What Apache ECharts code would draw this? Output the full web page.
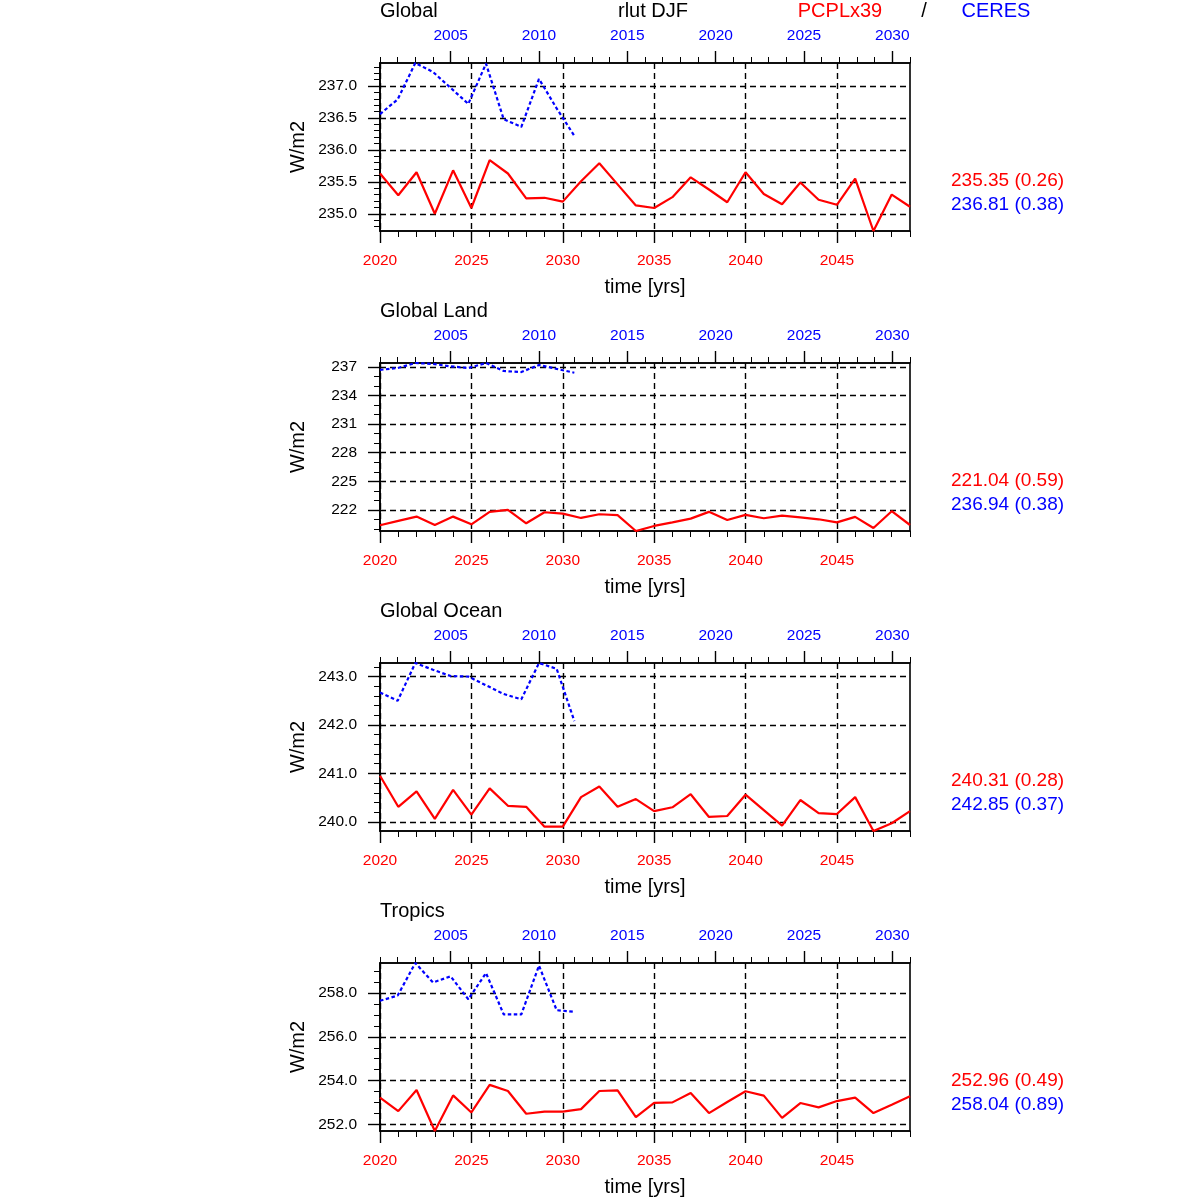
<!DOCTYPE html>
<html><head><meta charset="utf-8">
<script src="https://cdn.jsdelivr.net/npm/echarts@6/dist/echarts.min.js"></script>
<style>html,body{margin:0;padding:0;background:#fff}#c{width:1200px;height:1200px}</style>
</head><body><div id="c"></div>
<script>
// ---- data ----
const modelYears = [2020,2021,2022,2023,2024,2025,2026,2027,2028,2029,2030,2031,2032,2033,2034,2035,2036,2037,2038,2039,2040,2041,2042,2043,2044,2045,2046,2047,2048,2049];
const obsYears = [2001,2002,2003,2004,2005,2006,2007,2008,2009,2010,2011,2012];

const globalModel = [235.63,235.29,235.65,235.00,235.68,235.09,235.84,235.63,235.24,235.25,235.19,235.51,235.79,235.46,235.13,235.09,235.26,235.57,235.38,235.18,235.65,235.31,235.15,235.49,235.22,235.14,235.55,234.73,235.30,235.11];
const globalObs = [236.56,236.79,237.36,237.22,236.97,236.72,237.35,236.48,236.36,237.11,236.65,236.22];

const landModel = [220.38,220.84,221.29,220.41,221.29,220.48,221.79,222.00,220.59,221.75,221.61,221.15,221.54,221.44,219.78,220.31,220.69,221.08,221.79,220.94,221.47,221.12,221.40,221.22,221.01,220.69,221.26,220.09,221.86,220.41];
const landObs = [236.70,236.89,237.42,237.32,237.07,236.89,237.42,236.58,236.47,237.21,236.80,236.40];

const oceanModel = [240.95,240.31,240.63,240.06,240.66,240.15,240.69,240.33,240.31,239.90,239.90,240.51,240.73,240.31,240.47,240.22,240.30,240.57,240.10,240.12,240.56,240.24,239.92,240.45,240.18,240.16,240.51,239.81,239.97,240.22];
const oceanObs = [242.67,242.50,243.28,243.14,243.01,243.00,242.82,242.64,242.53,243.28,243.16,242.08];

const tropicsModel = [253.22,252.60,253.57,251.69,253.32,252.54,253.80,253.52,252.48,252.58,252.58,252.69,253.52,253.55,252.32,252.98,253.00,253.43,252.51,253.02,253.51,253.31,252.29,252.97,252.77,253.06,253.22,252.51,252.89,253.28];
const tropicsObs = [257.65,257.89,259.38,258.49,258.77,257.72,258.92,257.03,257.03,259.26,257.22,257.15];

const panelNames = ['Global','Global Land','Global Ocean','Tropics'];
const globalTicks = [235.0,235.5,236.0,236.5,237.0];
const landTicks = [222,225,228,231,234,237];
const oceanTicks = [240.0,241.0,242.0,243.0];
const tropicsTicks = [252.0,254.0,256.0,258.0];
const bottomTicks = [2020,2025,2030,2035,2040,2045];
const topTicks = [2005,2010,2015,2020,2025,2030];
const modelStats = ['235.35 (0.26)','221.04 (0.59)','240.31 (0.28)','252.96 (0.49)'];
const obsStats = ['236.81 (0.38)','236.94 (0.38)','242.85 (0.37)','258.04 (0.89)'];

// ---- layout / style ----
const FONT = '"Liberation Sans", Arial, Helvetica, sans-serif';
const panels = [
  {model: globalModel, obs: globalObs, ticks: globalTicks, minor: 0.1, dec: 1},
  {model: landModel, obs: landObs, ticks: landTicks, minor: 1, dec: 0},
  {model: oceanModel, obs: oceanObs, ticks: oceanTicks, minor: 0.2, dec: 1},
  {model: tropicsModel, obs: tropicsObs, ticks: tropicsTicks, minor: 0.5, dec: 1}
];
const bottomMin = 2020, bottomMax = 2049, topMin = 2001, topMax = 2031;
function range(a, b, step) {
  const out = [];
  const k0 = Math.ceil(a / step - 1e-9), k1 = Math.floor(b / step + 1e-9);
  for (let k = k0; k <= k1; k++) out.push(+(k * step).toFixed(6));
  return out;
}
const dash = {color: '#000', width: 1.4, type: [6, 4]};
const axLine = {show: true, onZero: false, lineStyle: {color: '#000', width: 1.6}};
const yearFmt = (v) => String(Math.round(v));

const grid = [], xAxis = [], yAxis = [], series = [], graphic = [];
panels.forEach((p, i) => {
  const top = 63 + 300 * i;
  const all = p.model.concat(p.obs);
  const yMin = Math.min.apply(null, all), yMax = Math.max.apply(null, all);
  grid.push({left: 380, width: 530, top: top, height: 168, show: true, borderColor: '#000', borderWidth: 1.6, backgroundColor: 'transparent'});
  // bottom major
  xAxis.push({type: 'value', gridIndex: i, position: 'bottom', min: bottomMin, max: bottomMax,
    axisLine: axLine,
    axisTick: {show: true, customValues: bottomTicks, length: 12, lineStyle: {color: '#000', width: 1.4}},
    axisLabel: {show: true, customValues: bottomTicks, color: '#ff0000', fontSize: 15.5, fontFamily: FONT, margin: 22, formatter: yearFmt},
    splitLine: {show: true, lineStyle: dash},
    name: 'time [yrs]', nameLocation: 'middle', nameGap: 46,
    nameTextStyle: {fontSize: 20, color: '#000', fontFamily: FONT}});
  // bottom minor
  xAxis.push({type: 'value', gridIndex: i, position: 'bottom', min: bottomMin, max: bottomMax,
    axisLine: {show: false},
    axisTick: {show: true, customValues: range(bottomMin, bottomMax, 1), length: 6, lineStyle: {color: '#000', width: 1}},
    axisLabel: {show: false}, splitLine: {show: false}});
  // top major (CERES years)
  xAxis.push({type: 'value', gridIndex: i, position: 'top', min: topMin, max: topMax,
    axisLine: axLine,
    axisTick: {show: true, customValues: topTicks, length: 12, lineStyle: {color: '#000', width: 1.4}},
    axisLabel: {show: true, customValues: topTicks, color: '#0000ff', fontSize: 15.5, fontFamily: FONT, margin: 19, formatter: yearFmt},
    splitLine: {show: false}});
  // top minor
  xAxis.push({type: 'value', gridIndex: i, position: 'top', min: topMin, max: topMax,
    axisLine: {show: false},
    axisTick: {show: true, customValues: range(topMin, topMax, 1), length: 6, lineStyle: {color: '#000', width: 1}},
    axisLabel: {show: false}, splitLine: {show: false}});
  // y major
  yAxis.push({type: 'value', gridIndex: i, position: 'left', min: yMin, max: yMax,
    axisLine: axLine,
    axisTick: {show: true, customValues: p.ticks, length: 12, lineStyle: {color: '#000', width: 1.4}},
    axisLabel: {show: true, customValues: p.ticks, color: '#000', fontSize: 15.5, fontFamily: FONT, margin: 23,
      formatter: (v) => Number(v).toFixed(p.dec)},
    splitLine: {show: true, lineStyle: dash},
    name: 'W/m2', nameLocation: 'middle', nameGap: 72, nameRotate: 90,
    nameTextStyle: {fontSize: 20, color: '#000', fontFamily: FONT}});
  // y minor
  yAxis.push({type: 'value', gridIndex: i, position: 'left', min: yMin, max: yMax,
    axisLine: {show: false},
    axisTick: {show: true, customValues: range(yMin, yMax, p.minor), length: 6, lineStyle: {color: '#000', width: 1}},
    axisLabel: {show: false}, splitLine: {show: false}});

  series.push({type: 'line', xAxisIndex: 4 * i, yAxisIndex: 2 * i, symbol: 'none', silent: true,
    data: modelYears.map((y, k) => [y, p.model[k]]),
    lineStyle: {color: '#ff0000', width: 2.2}, itemStyle: {color: '#ff0000'}, z: 5});
  series.push({type: 'line', xAxisIndex: 4 * i + 2, yAxisIndex: 2 * i, symbol: 'none', silent: true,
    data: obsYears.map((y, k) => [y, p.obs[k]]),
    lineStyle: {color: '#0000ff', width: 2.2, type: [3.5, 2.5]}, itemStyle: {color: '#0000ff'}, z: 5});

  const txt = (x, y, text, color, size, align) => ({type: 'text', x: x, y: y, silent: true,
    style: {text: text, fill: color, font: size + 'px ' + FONT, textAlign: align, textVerticalAlign: 'middle', verticalAlign: 'middle'}});
  graphic.push(txt(380, 11 + 300 * i, panelNames[i], '#000', 20, 'left'));
  graphic.push(txt(951, 181 + 300 * i, modelStats[i], '#ff0000', 19, 'left'));
  graphic.push(txt(951, 205 + 300 * i, obsStats[i], '#0000ff', 19, 'left'));
});
const txt0 = (x, y, text, color) => ({type: 'text', x: x, y: y, silent: true,
  style: {text: text, fill: color, font: '20px ' + FONT, textAlign: 'center', textVerticalAlign: 'middle', verticalAlign: 'middle'}});
graphic.push(txt0(653, 11, 'rlut DJF', '#000'));
graphic.push(txt0(840, 11, 'PCPLx39', '#ff0000'));
graphic.push(txt0(924, 11, '/', '#000'));
graphic.push(txt0(996, 11, 'CERES', '#0000ff'));

const chart = echarts.init(document.getElementById('c'), null, {renderer: 'canvas'});
chart.setOption({animation: false, backgroundColor: '#fff', grid, xAxis, yAxis, series, graphic});
</script></body></html>
